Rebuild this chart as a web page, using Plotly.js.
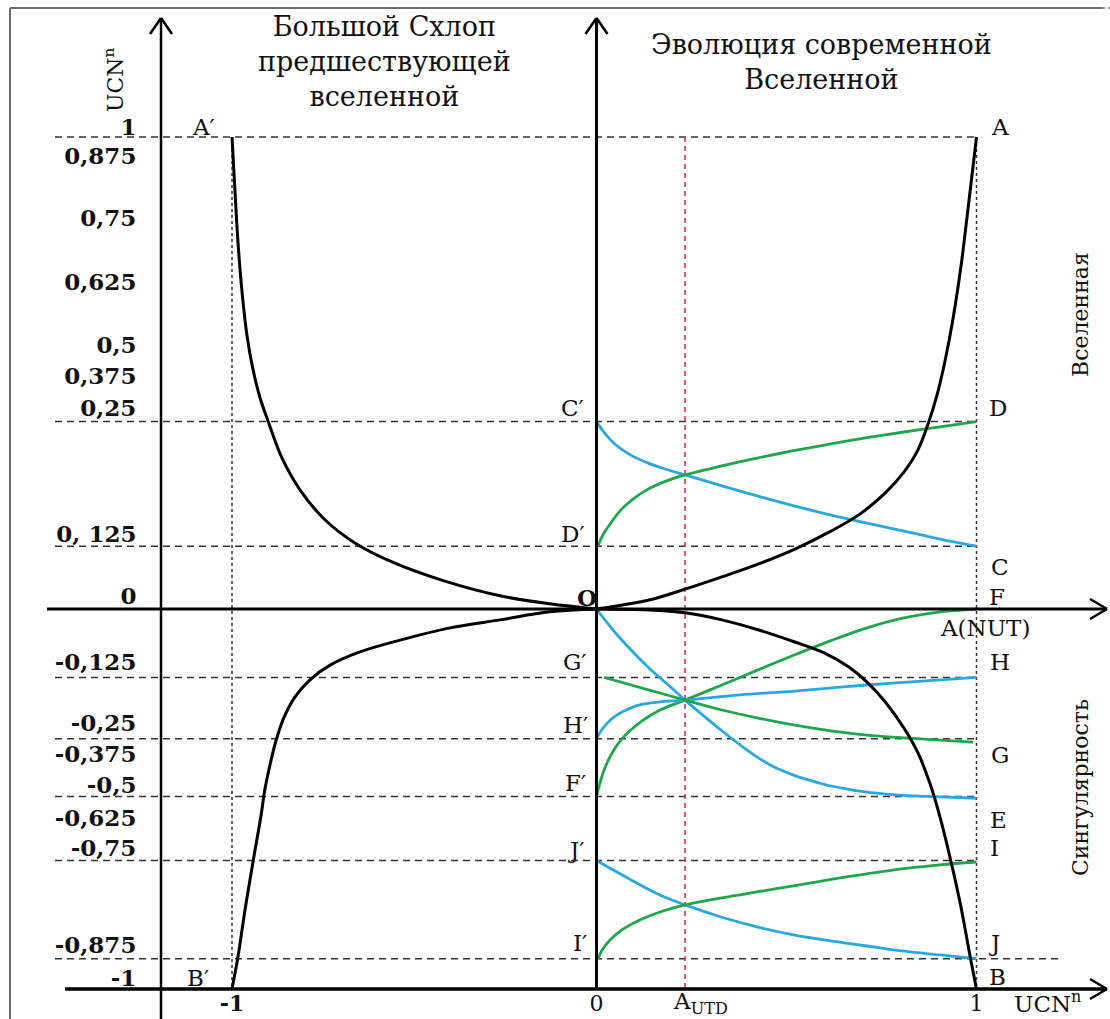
<!DOCTYPE html>
<html><head><meta charset="utf-8">
<script src="https://cdn.plot.ly/plotly-3.0.1.min.js"></script>
<style>html,body{margin:0;padding:0;background:#fff}#chart{width:1110px;height:1019px}</style>
</head><body><div id="chart"></div>
<script>
// ---------------- DATA (display units: x in UCN, y in diagram units where level A = 1) ----------------
const AUTD = 0.233;
// horizontal guide levels (display positions) for the labelled UCN levels 1, .25, .125, -.125, -.25, -.5, -.75, -.875
const levelPos = [1.0, 0.397, 0.133, -0.145, -0.275, -0.397, -0.533, -0.741];
const bottomLevel = -0.805;   // level -1 (lower x axis)

const yTickText = ['1','0,875','0,75','0,625','0,5','0,375','0,25','0, 125','0','-0,125','-0,25','-0,375','-0,5','-0,625','-0,75','-0,875','-1'];
const yTickPos  = [1.021,0.960,0.828,0.693,0.559,0.494,0.426,0.159,0.028,-0.112,-0.242,-0.307,-0.373,-0.443,-0.507,-0.712,-0.782];

// black curves
const blackURx = [0,0.138,0.233,0.330,0.425,0.522,0.617,0.693,0.760,0.809,0.846,0.875,0.896,0.917,0.938,0.959,0.977,1.0];
const blackURy = [0,0.019,0.042,0.068,0.095,0.127,0.165,0.201,0.246,0.290,0.337,0.398,0.453,0.525,0.614,0.725,0.843,1.0];
const blackLRx = [0,0.138,0.233,0.330,0.425,0.522,0.599,0.664,0.712,0.760,0.809,0.846,0.878,0.904,0.930,0.957,0.983,1.0];
const blackLRy = [0,-0.002,-0.008,-0.023,-0.044,-0.070,-0.093,-0.123,-0.155,-0.197,-0.252,-0.305,-0.371,-0.441,-0.525,-0.623,-0.735,-0.805];
const blackULx = [-1.0,-0.992,-0.984,-0.973,-0.959,-0.942,-0.923,-0.901,-0.863,-0.813,-0.745,-0.663,-0.553,-0.416,-0.265,-0.128,0];
const blackULy = [1.0,0.888,0.782,0.676,0.580,0.506,0.447,0.398,0.320,0.252,0.189,0.140,0.097,0.059,0.028,0.011,0];
const blackLLx = [0,-0.128,-0.265,-0.402,-0.539,-0.649,-0.731,-0.786,-0.827,-0.857,-0.879,-0.896,-0.910,-0.920,-0.942,-0.964,-0.984,-1.0];
const blackLLy = [0,-0.006,-0.023,-0.040,-0.066,-0.091,-0.119,-0.150,-0.186,-0.229,-0.278,-0.331,-0.383,-0.436,-0.534,-0.636,-0.739,-0.805];

// blue / green curves
const blueCCx  = [0,0.022,0.049,0.088,0.136,0.183,0.233,0.330,0.425,0.522,0.617,0.712,0.809,0.904,1.0];
const blueCCy  = [0.397,0.372,0.349,0.327,0.309,0.296,0.284,0.261,0.239,0.218,0.199,0.182,0.165,0.148,0.133];
const greenDDx = [0.004,0.017,0.036,0.062,0.096,0.136,0.183,0.233,0.330,0.425,0.522,0.617,0.712,0.809,0.904,1.0];
const greenDDy = [0.133,0.157,0.180,0.208,0.233,0.254,0.271,0.284,0.303,0.320,0.336,0.350,0.363,0.375,0.386,0.397];
const blueOEx  = [0,0.043,0.091,0.138,0.186,0.233,0.283,0.330,0.378,0.425,0.470,0.522,0.570,0.617,0.664,0.712,0.760,0.809,0.904,1.0];
const blueOEy  = [0,-0.044,-0.087,-0.125,-0.159,-0.193,-0.227,-0.258,-0.288,-0.315,-0.336,-0.353,-0.365,-0.375,-0.382,-0.388,-0.392,-0.395,-0.398,-0.401];
const greenFFx = [0,0.009,0.022,0.041,0.062,0.088,0.120,0.167,0.233,0.330,0.425,0.522,0.617,0.712,0.809,0.904,1.0];
const greenFFy = [-0.397,-0.369,-0.337,-0.305,-0.280,-0.258,-0.237,-0.214,-0.193,-0.161,-0.129,-0.097,-0.067,-0.040,-0.019,-0.006,0];
const blueHHx  = [0,0.012,0.028,0.049,0.078,0.114,0.167,0.233,0.378,0.522,0.712,0.904,1.0];
const blueHHy  = [-0.275,-0.258,-0.242,-0.227,-0.214,-0.203,-0.197,-0.193,-0.182,-0.174,-0.161,-0.150,-0.145];
const greenGGx = [0.02,0.091,0.167,0.233,0.330,0.425,0.522,0.617,0.712,0.809,0.904,0.991];
const greenGGy = [-0.145,-0.161,-0.178,-0.193,-0.214,-0.231,-0.246,-0.258,-0.267,-0.273,-0.278,-0.282];
const blueJJx  = [0,0.091,0.167,0.233,0.330,0.425,0.522,0.617,0.712,0.809,0.904,1.0];
const blueJJy  = [-0.533,-0.574,-0.606,-0.627,-0.653,-0.674,-0.691,-0.703,-0.714,-0.725,-0.733,-0.741];
const greenIIx = [0.004,0.017,0.038,0.067,0.114,0.167,0.233,0.330,0.425,0.522,0.617,0.712,0.809,0.904,1.0];
const greenIIy = [-0.741,-0.720,-0.699,-0.680,-0.659,-0.642,-0.627,-0.612,-0.599,-0.586,-0.573,-0.561,-0.550,-0.542,-0.536];

const pointLabels = ['A′','A','C′','D','D′','C','O','F','A(NUT)','G′','H','H′','G','F′','E','J′','I','I′','J','B','B′'];

// ---------------- LAYOUT GEOMETRY ----------------
const W = 1110, H = 1019;
const X0 = 596.5, XS = 380, XSL = 364.5, Y0 = 609, YS = 472;
const fx = p => (p - X0) / XS;
const fy = p => (Y0 - p) / YS;
const px = p => p / W, py = p => 1 - p / H;
const FONT = 'DejaVu Serif';
const BLUE = '#29a8e0', GREEN = '#1fa54b', RED = '#e3344f';

function line(x, y, color, width, xaxis) {
  return {x, y, xaxis: xaxis || 'x', yaxis: 'y', mode: 'lines', hoverinfo: 'skip',
          line: {color, width, shape: 'spline', smoothing: 1}};
}
const traces = [
  line(blueCCx, blueCCy, BLUE, 2.8), line(greenDDx, greenDDy, GREEN, 2.8),
  line(blueOEx, blueOEy, BLUE, 2.8), line(greenFFx, greenFFy, GREEN, 2.8),
  line(blueHHx, blueHHy, BLUE, 2.8), line(greenGGx, greenGGy, GREEN, 2.8),
  line(blueJJx, blueJJy, BLUE, 2.8), line(greenIIx, greenIIy, GREEN, 2.8),
  line(blackURx, blackURy, '#000', 3), line(blackLRx, blackLRy, '#000', 3),
  line(blackULx, blackULy, '#000', 3, 'x2'), line(blackLLx, blackLLy, '#000', 3, 'x2')
];

const shapes = [];
function seg(x0, y0, x1, y1, color, width, dash, xref, layer) {
  shapes.push({type: 'line', xref: xref || 'x', yref: 'y', x0, y0, x1, y1,
               line: {color, width, dash: dash || 'solid'}, layer: layer || 'above'});
}
// frame
shapes.push({type:'line', xref:'paper', yref:'paper', x0:px(10), y0:py(8), x1:px(1102), y1:py(8), line:{color:'#6b6b6b', width:2}});
shapes.push({type:'line', xref:'paper', yref:'paper', x0:px(10), y0:py(8), x1:px(10), y1:py(1019), line:{color:'#6b6b6b', width:2}});
shapes.push({type:'line', xref:'paper', yref:'paper', x0:px(1102), y0:py(8), x1:px(1110), y1:py(8), line:{color:'#6b6b6b', width:1.5, dash:'3px,3px'}});
// horizontal guide levels
levelPos.forEach((v, i) => {
  const xEnd = (i === levelPos.length - 1) ? fx(1063) : 1.0;
  seg(fx(55), v, xEnd, v, '#333', 1.5, '7px,5px', 'x', 'below');
});
// vertical guides
seg(-1, levelPos[0], -1, bottomLevel, '#333', 1.5, '3px,3px', 'x2', 'below');
seg(1, levelPos[0], 1, bottomLevel, '#333', 1.5, '3px,3px', 'x', 'below');
seg(AUTD, levelPos[0], AUTD, bottomLevel, RED, 1.6, '5px,4px', 'x', 'below');
// axes
seg(fx(47), 0, fx(1107), 0, '#000', 3);
seg(fx(65), bottomLevel, fx(1107), bottomLevel, '#000', 3.5);
seg(fx(161), fy(18), fx(161), fy(1019), '#000', 2.5);
seg(0, fy(18), 0, bottomLevel, '#000', 3);
// open arrow heads
[[161, 18], [596.5, 18]].forEach(([ax, ay]) => {
  seg(fx(ax), fy(ay), fx(ax - 11), fy(ay + 16), '#000', 2.5);
  seg(fx(ax), fy(ay), fx(ax + 11), fy(ay + 16), '#000', 2.5);
});
[609, 989].forEach(ay => {
  seg(fx(1107), fy(ay), fx(1090), fy(ay - 10), '#000', 2.5);
  seg(fx(1107), fy(ay), fx(1090), fy(ay + 10), '#000', 2.5);
});

// annotations
const ann = [];
function txt(text, x, y, size, opts) {
  ann.push(Object.assign({text, xref:'paper', yref:'paper', x: px(x), y: py(y), showarrow:false,
    xanchor:'center', yanchor:'middle', font:{family:FONT, size, color:'#111'}}, opts || {}));
}
txt('Большой Схлоп<br>предшествующей<br>вселенной', 384, 61, 27);
txt('Эволюция современной<br>Вселенной', 821, 62, 27);
txt('UCN<sup>n</sup>', 114, 80, 22, {textangle:-90});
txt('Вселенная', 1080, 315, 22, {textangle:-90});
txt('Сингулярность', 1080, 788, 22, {textangle:-90});
txt('A<sub>UTD</sub>', 671, 1003, 23, {xanchor:'left'});
txt('UCN<sup>n</sup>', 1047, 1002, 23);
const labelPx = [[203,127],[1000,127],[573,408],[998,408],[573,534],[1000,567],[587,597],[997,597],[985,628],
  [575,662],[1000,662],[575,725],[1000,755],[575,783],[998,820],[576,850],[995,848],[580,943],[995,943],[997,977],[198,978]];
pointLabels.forEach((t, i) => txt(t === 'O' ? '<b>O</b>' : t, labelPx[i][0], labelPx[i][1], 23));

const layout = {
  width: W, height: H, margin: {l:0, r:0, t:0, b:0, pad:0},
  paper_bgcolor: '#fff', plot_bgcolor: '#fff', showlegend: false, hovermode: false,
  xaxis: {range: [fx(0), fx(W)], anchor: 'free', position: 1 - 982 / H, showgrid:false, zeroline:false, showline:false,
          tickmode:'array', tickvals:[0, 1], ticktext:['0','1'], ticks:'outside', ticklen:2, tickcolor:'rgba(0,0,0,0)',
          tickfont:{family:FONT, size:22, color:'#111'}, fixedrange:true},
  xaxis2: {range: [-X0 / XSL, (W - X0) / XSL], overlaying:'x', anchor:'free', position: 1 - 982 / H, showgrid:false,
           zeroline:false, showline:false, tickmode:'array', tickvals:[-1], ticktext:['-1'], ticks:'outside', ticklen:2,
           tickcolor:'rgba(0,0,0,0)', tickfont:{family:FONT, size:22, color:'#111', weight:'bold'}, fixedrange:true},
  yaxis: {range: [fy(H), fy(0)], anchor:'free', position: 161 / W, side:'left', showgrid:false, zeroline:false, showline:false,
          tickmode:'array', tickvals: yTickPos, ticktext: yTickText, ticks:'outside', ticklen:20, tickcolor:'rgba(0,0,0,0)',
          tickfont:{family:FONT, size:23, color:'#111', weight:'bold'}, fixedrange:true},
  shapes, annotations: ann
};
Plotly.newPlot('chart', traces, layout, {staticPlot:true, displayModeBar:false});
</script></body></html>
